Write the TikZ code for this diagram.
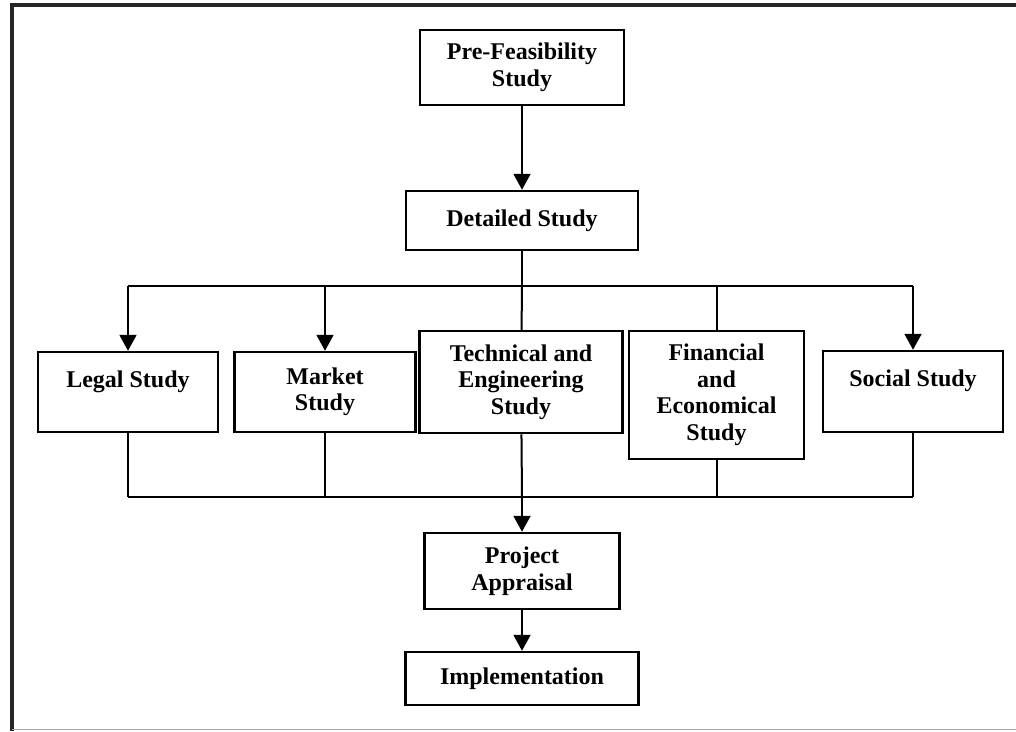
\documentclass[tikz,border=0pt]{standalone}
\usepackage{fontspec}
\setmainfont{Liberation Serif}
\usetikzlibrary{arrows.meta}

\tikzset{
  stage/.style={draw=black, line width=2.5pt, fill=white, align=center, inner sep=2pt,
    font=\fontsize{24}{26.5}\selectfont\bfseries},
  link/.style={draw=black, line width=2pt},
  flow/.style={link, -{Triangle[width=17pt,length=16pt]}}
}

\begin{document}
\begin{tikzpicture}[x=1pt,y=-1pt]
\useasboundingbox (0,0) rectangle (1016,731);

%frame
\draw [line width=4pt, draw=black!85] (11.5,731) -- (11.5,5) -- (1016,5);
\draw [line width=1.5pt, draw=black!35] (11.5,729.5) -- (1016,729.5);

%top part
\node[stage, minimum width=204, minimum height=75] (pre) at (522, 67.5) {Pre-Feasibility\\Study};
\node[stage, minimum width=232, minimum height=59] (det) at (522, 220.5) {Detailed Study};

%studies
\node[stage, minimum width=180, minimum height=80] (legal) at (128, 392) {Legal Study\\~};
\node[stage, minimum width=181, minimum height=80] (market) at (325, 392) {Market\\Study};
\node[stage, minimum width=203, minimum height=102] (tech) at (521, 382) {Technical and\\Engineering\\Study};
\node[stage, minimum width=175, minimum height=128] (fin) at (716.5, 395) {Financial\\and\\Economical\\Study};
\node[stage, minimum width=180, minimum height=81] (social) at (913, 391.5) {Social Study\\~};

%bottom part
\node[stage, minimum width=195, minimum height=76] (appr) at (522, 571) {Project\\Appraisal};
\node[stage, minimum width=233, minimum height=53] (impl) at (522, 678.5) {Implementation};

\coordinate (split) at (522, 286);
\coordinate (join) at (522, 497);

%connectors
\draw [flow] (pre) -- (det);
\draw [link] (det) -- (split);
\draw [link] (legal.north |- split) -- (social.north |- split);
\draw [flow] (legal.north |- split) -- (legal);
\draw [flow] (market.north |- split) -- (market);
\draw [link] (split) -- (tech);
\draw [link] (fin.north |- split) -- (fin);
\draw [flow] (social.north |- split) -- (social);

\draw [link] (legal) -- (legal.south |- join);
\draw [link] (market) -- (market.south |- join);
\draw [link] (tech) -- (join);
\draw [link] (fin) -- (fin.south |- join);
\draw [link] (social) -- (social.south |- join);
\draw [link] (legal.south |- join) -- (social.south |- join);
\draw [flow] (join) -- (appr);
\draw [flow] (appr) -- (impl);
\end{tikzpicture}
\end{document}
